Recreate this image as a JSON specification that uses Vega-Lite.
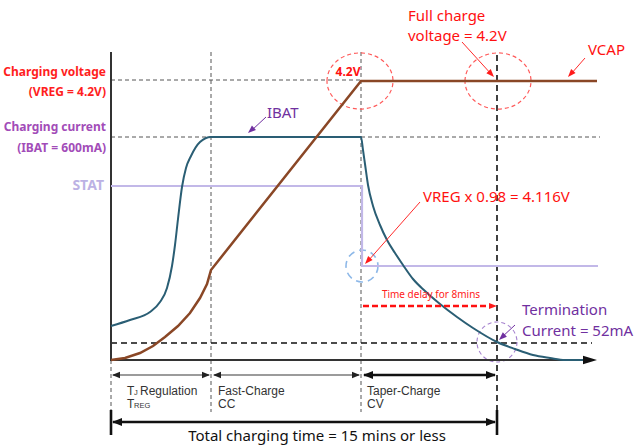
{
  "$schema": "https://vega.github.io/schema/vega-lite/v6.json",
  "width": 639,
  "height": 446,
  "padding": 0,
  "autosize": "none",
  "background": "white",
  "config": {"view": {"stroke": null}},
  "datasets": {
    "lines": [
      {"s": "VCAP", "o": 1, "x": 111, "y": 360},
      {"s": "VCAP", "o": 2, "x": 125, "y": 358},
      {"s": "VCAP", "o": 3, "x": 140, "y": 353},
      {"s": "VCAP", "o": 4, "x": 153, "y": 346},
      {"s": "VCAP", "o": 5, "x": 165, "y": 337},
      {"s": "VCAP", "o": 6, "x": 178, "y": 326},
      {"s": "VCAP", "o": 7, "x": 190, "y": 313},
      {"s": "VCAP", "o": 8, "x": 200, "y": 298},
      {"s": "VCAP", "o": 9, "x": 207, "y": 284},
      {"s": "VCAP", "o": 10, "x": 211, "y": 270},
      {"s": "VCAP", "o": 11, "x": 361, "y": 81},
      {"s": "VCAP", "o": 12, "x": 597, "y": 81},
      {"s": "IBAT", "o": 1, "x": 111, "y": 326},
      {"s": "IBAT", "o": 2, "x": 130, "y": 320},
      {"s": "IBAT", "o": 3, "x": 150, "y": 312},
      {"s": "IBAT", "o": 4, "x": 160, "y": 302},
      {"s": "IBAT", "o": 5, "x": 167, "y": 288},
      {"s": "IBAT", "o": 6, "x": 172, "y": 266},
      {"s": "IBAT", "o": 7, "x": 175, "y": 245},
      {"s": "IBAT", "o": 8, "x": 178, "y": 219},
      {"s": "IBAT", "o": 9, "x": 182, "y": 187},
      {"s": "IBAT", "o": 10, "x": 186, "y": 168},
      {"s": "IBAT", "o": 11, "x": 191, "y": 156},
      {"s": "IBAT", "o": 12, "x": 200, "y": 142},
      {"s": "IBAT", "o": 13, "x": 211, "y": 137},
      {"s": "IBAT", "o": 14, "x": 361, "y": 137},
      {"s": "IBAT", "o": 15, "x": 363, "y": 150},
      {"s": "IBAT", "o": 16, "x": 365, "y": 164},
      {"s": "IBAT", "o": 17, "x": 368, "y": 185},
      {"s": "IBAT", "o": 18, "x": 373, "y": 206},
      {"s": "IBAT", "o": 19, "x": 380, "y": 225},
      {"s": "IBAT", "o": 20, "x": 387, "y": 240},
      {"s": "IBAT", "o": 21, "x": 395, "y": 253},
      {"s": "IBAT", "o": 22, "x": 403, "y": 265},
      {"s": "IBAT", "o": 23, "x": 413, "y": 279},
      {"s": "IBAT", "o": 24, "x": 425, "y": 291},
      {"s": "IBAT", "o": 25, "x": 440, "y": 304},
      {"s": "IBAT", "o": 26, "x": 457, "y": 317},
      {"s": "IBAT", "o": 27, "x": 473, "y": 328},
      {"s": "IBAT", "o": 28, "x": 497, "y": 342},
      {"s": "IBAT", "o": 29, "x": 515, "y": 349},
      {"s": "IBAT", "o": 30, "x": 533, "y": 355},
      {"s": "IBAT", "o": 31, "x": 550, "y": 358},
      {"s": "IBAT", "o": 32, "x": 565, "y": 360},
      {"s": "IBAT", "o": 33, "x": 590, "y": 360},
      {"s": "STAT", "o": 1, "x": 111, "y": 186},
      {"s": "STAT", "o": 2, "x": 362, "y": 186},
      {"s": "STAT", "o": 3, "x": 362, "y": 266},
      {"s": "STAT", "o": 4, "x": 598, "y": 266}
    ],
    "guides": [
      {"k": "g", "x": 111, "y": 80, "x2": 361, "y2": 80},
      {"k": "g", "x": 111, "y": 137, "x2": 211, "y2": 137},
      {"k": "g", "x": 361, "y": 137, "x2": 600, "y2": 137},
      {"k": "g", "x": 211, "y": 52, "x2": 211, "y2": 412},
      {"k": "g", "x": 361, "y": 52, "x2": 361, "y2": 412},
      {"k": "g", "x": 111, "y": 360, "x2": 111, "y2": 412},
      {"k": "b", "x": 111, "y": 343, "x2": 592, "y2": 343},
      {"k": "b", "x": 497, "y": 55, "x2": 497, "y2": 435}
    ],
    "arrows": [
      {"k": "axis", "x": 111, "y": 52, "x2": 111, "y2": 361},
      {"k": "axis", "x": 110, "y": 360, "x2": 588, "y2": 360},
      {"k": "red", "x": 462, "y": 42, "x2": 492, "y2": 75},
      {"k": "red", "x": 585, "y": 58, "x2": 571, "y2": 74},
      {"k": "red", "x": 420, "y": 202, "x2": 368, "y2": 261},
      {"k": "purple", "x": 266, "y": 117, "x2": 251, "y2": 131},
      {"k": "purple", "x": 515, "y": 325, "x2": 501, "y2": 338},
      {"k": "reddash", "x": 363, "y": 306, "x2": 490, "y2": 306},
      {"k": "gray", "x": 113, "y": 375, "x2": 209, "y2": 375},
      {"k": "gray", "x": 214, "y": 375, "x2": 359, "y2": 375},
      {"k": "black", "x": 364, "y": 375, "x2": 495, "y2": 375},
      {"k": "black", "x": 113, "y": 422, "x2": 495, "y2": 422},
      {"k": "black", "x": 111, "y": 410, "x2": 111, "y2": 435},
      {"k": "black", "x": 497, "y": 410, "x2": 497, "y2": 435}
    ],
    "heads": [
      {"k": "red", "x": 494, "y": 77, "ang": 137},
      {"k": "red", "x": 568, "y": 77, "ang": 222},
      {"k": "red", "x": 365, "y": 264, "ang": 222},
      {"k": "red", "x": 497, "y": 306, "ang": 90},
      {"k": "purple", "x": 248, "y": 133, "ang": 228},
      {"k": "purple", "x": 499, "y": 340, "ang": 227},
      {"k": "gray", "x": 112, "y": 375, "ang": 270},
      {"k": "gray", "x": 210, "y": 375, "ang": 90},
      {"k": "gray", "x": 213, "y": 375, "ang": 270},
      {"k": "gray", "x": 360, "y": 375, "ang": 90},
      {"k": "black", "x": 363, "y": 375, "ang": 270},
      {"k": "black", "x": 496, "y": 375, "ang": 90},
      {"k": "black", "x": 112, "y": 422, "ang": 270},
      {"k": "black", "x": 496, "y": 422, "ang": 90},
      {"k": "axis", "x": 597, "y": 360, "ang": 90}
    ],
    "rings": [
      {"k": "r", "x": 360, "y": 81},
      {"k": "r", "x": 498, "y": 81},
      {"k": "bl", "x": 362, "y": 266},
      {"k": "p", "x": 497, "y": 342}
    ],
    "labels": [
      {"k": "rv", "t": "Charging voltage", "x": 106, "y": 72},
      {"k": "rv", "t": "(VREG = 4.2V)", "x": 106, "y": 92},
      {"k": "pv", "t": "Charging current", "x": 106, "y": 127},
      {"k": "pv", "t": "(IBAT = 600mA)", "x": 106, "y": 148},
      {"k": "st", "t": "STAT", "x": 104, "y": 186},
      {"k": "ra", "t": "Full charge", "x": 408, "y": 16},
      {"k": "ra", "t": "voltage = 4.2V", "x": 408, "y": 36},
      {"k": "ra", "t": "VCAP", "x": 588, "y": 50},
      {"k": "ra", "t": "VREG x 0.98 = 4.116V", "x": 423, "y": 197},
      {"k": "r42", "t": "4.2V", "x": 348, "y": 72},
      {"k": "rs", "t": "Time delay for 8mins", "x": 431, "y": 295},
      {"k": "pa", "t": "IBAT", "x": 267, "y": 113},
      {"k": "pa", "t": "Termination", "x": 522, "y": 310},
      {"k": "pa", "t": "Current = 52mA", "x": 522, "y": 331},
      {"k": "bt", "t": "T", "x": 127, "y": 391},
      {"k": "bs", "t": "J", "x": 134, "y": 393},
      {"k": "bt", "t": "Regulation", "x": 140, "y": 391},
      {"k": "bt", "t": "T", "x": 127, "y": 404},
      {"k": "bs", "t": "REG", "x": 134, "y": 406},
      {"k": "bt", "t": "Fast-Charge", "x": 218, "y": 391},
      {"k": "bt", "t": "CC", "x": 218, "y": 404},
      {"k": "bt", "t": "Taper-Charge", "x": 367, "y": 391},
      {"k": "bt", "t": "CV", "x": 367, "y": 404},
      {"k": "tot", "t": "Total charging time = 15 mins or less", "x": 317, "y": 436}
    ]
  },
  "encoding": {
    "x": {"field": "x", "type": "quantitative", "scale": {"domain": [0, 639], "nice": false, "zero": false}, "axis": null},
    "y": {"field": "y", "type": "quantitative", "scale": {"domain": [0, 446], "reverse": true, "nice": false, "zero": false}, "axis": null}
  },
  "layer": [
    {"data": {"name": "guides"}, "transform": [{"filter": "datum.k == 'g'"}], "mark": {"type": "rule", "color": "#555555", "strokeWidth": 1, "strokeDash": [4, 3]}, "encoding": {"x2": {"field": "x2"}, "y2": {"field": "y2"}}},
    {"data": {"name": "guides"}, "transform": [{"filter": "datum.k == 'b'"}], "mark": {"type": "rule", "color": "#111111", "strokeWidth": 1.6, "strokeDash": [6, 4]}, "encoding": {"x2": {"field": "x2"}, "y2": {"field": "y2"}}},
    {"data": {"name": "rings"}, "transform": [{"filter": "datum.k == 'r'"}], "mark": {"type": "point", "shape": "M-1,0A1,0.85,0,1,1,1,0A1,0.85,0,1,1,-1,0Z", "size": 4356, "filled": false, "stroke": "#FF5A5A", "strokeWidth": 1.2, "strokeDash": [4, 3], "opacity": 1}},
    {"data": {"name": "rings"}, "transform": [{"filter": "datum.k == 'bl'"}], "mark": {"type": "point", "shape": "circle", "size": 1024, "filled": false, "stroke": "#8DB8E8", "strokeWidth": 1.6, "strokeDash": [7, 5], "opacity": 1}},
    {"data": {"name": "rings"}, "transform": [{"filter": "datum.k == 'p'"}], "mark": {"type": "point", "shape": "circle", "size": 1600, "filled": false, "stroke": "#A683CF", "strokeWidth": 1.1, "strokeDash": [4, 3], "opacity": 1}},
    {"data": {"name": "arrows"}, "transform": [{"filter": "datum.k == 'axis'"}], "mark": {"type": "rule", "color": "#333333", "strokeWidth": 2}, "encoding": {"x2": {"field": "x2"}, "y2": {"field": "y2"}}},
    {"data": {"name": "lines"}, "transform": [{"filter": "datum.s == 'STAT'"}], "mark": {"type": "line", "color": "#C2B8E8", "strokeWidth": 2.2}, "encoding": {"order": {"field": "o", "type": "quantitative"}}},
    {"data": {"name": "lines"}, "transform": [{"filter": "datum.s == 'IBAT'"}], "mark": {"type": "line", "color": "#2A5E74", "strokeWidth": 2, "interpolate": "monotone"}, "encoding": {"order": {"field": "o", "type": "quantitative"}}},
    {"data": {"name": "lines"}, "transform": [{"filter": "datum.s == 'VCAP'"}], "mark": {"type": "line", "color": "#8A4726", "strokeWidth": 2.5}, "encoding": {"order": {"field": "o", "type": "quantitative"}}},
    {"data": {"name": "arrows"}, "transform": [{"filter": "datum.k == 'red'"}], "mark": {"type": "rule", "color": "#FF2A2A", "strokeWidth": 1}, "encoding": {"x2": {"field": "x2"}, "y2": {"field": "y2"}}},
    {"data": {"name": "arrows"}, "transform": [{"filter": "datum.k == 'purple'"}], "mark": {"type": "rule", "color": "#7030A0", "strokeWidth": 1}, "encoding": {"x2": {"field": "x2"}, "y2": {"field": "y2"}}},
    {"data": {"name": "arrows"}, "transform": [{"filter": "datum.k == 'reddash'"}], "mark": {"type": "rule", "color": "#FF1010", "strokeWidth": 2.5, "strokeDash": [6, 3]}, "encoding": {"x2": {"field": "x2"}, "y2": {"field": "y2"}}},
    {"data": {"name": "arrows"}, "transform": [{"filter": "datum.k == 'gray'"}], "mark": {"type": "rule", "color": "#7A7A7A", "strokeWidth": 1.3}, "encoding": {"x2": {"field": "x2"}, "y2": {"field": "y2"}}},
    {"data": {"name": "arrows"}, "transform": [{"filter": "datum.k == 'black'"}], "mark": {"type": "rule", "color": "#111111", "strokeWidth": 2.6}, "encoding": {"x2": {"field": "x2"}, "y2": {"field": "y2"}}},
    {"data": {"name": "heads"}, "transform": [{"filter": "datum.k == 'red'"}], "mark": {"type": "point", "shape": "M0,0L0.75,2L-0.75,2Z", "size": 64, "filled": true, "color": "#FF1A1A", "opacity": 1}, "encoding": {"angle": {"field": "ang", "type": "quantitative", "scale": null}}},
    {"data": {"name": "heads"}, "transform": [{"filter": "datum.k == 'purple'"}], "mark": {"type": "point", "shape": "M0,0L0.75,2L-0.75,2Z", "size": 64, "filled": true, "color": "#7030A0", "opacity": 1}, "encoding": {"angle": {"field": "ang", "type": "quantitative", "scale": null}}},
    {"data": {"name": "heads"}, "transform": [{"filter": "datum.k == 'gray'"}], "mark": {"type": "point", "shape": "M0,0L0.8,2L-0.8,2Z", "size": 64, "filled": true, "color": "#222222", "opacity": 1}, "encoding": {"angle": {"field": "ang", "type": "quantitative", "scale": null}}},
    {"data": {"name": "heads"}, "transform": [{"filter": "datum.k == 'black'"}], "mark": {"type": "point", "shape": "M0,0L0.8,2L-0.8,2Z", "size": 100, "filled": true, "color": "#111111", "opacity": 1}, "encoding": {"angle": {"field": "ang", "type": "quantitative", "scale": null}}},
    {"data": {"name": "heads"}, "transform": [{"filter": "datum.k == 'axis'"}], "mark": {"type": "point", "shape": "M0,0L0.6,2L-0.6,2Z", "size": 196, "filled": true, "color": "#111111", "opacity": 1}, "encoding": {"angle": {"field": "ang", "type": "quantitative", "scale": null}}},
    {"data": {"name": "labels"}, "transform": [{"filter": "datum.k == 'rv'"}], "mark": {"type": "text", "align": "right", "baseline": "middle", "font": "Noto Sans", "fontSize": 12, "fontWeight": "bold", "color": "#FF1E1E"}, "encoding": {"text": {"field": "t"}}},
    {"data": {"name": "labels"}, "transform": [{"filter": "datum.k == 'pv'"}], "mark": {"type": "text", "align": "right", "baseline": "middle", "font": "Noto Sans", "fontSize": 12, "fontWeight": "bold", "color": "#A24CB8"}, "encoding": {"text": {"field": "t"}}},
    {"data": {"name": "labels"}, "transform": [{"filter": "datum.k == 'st'"}], "mark": {"type": "text", "align": "right", "baseline": "middle", "font": "Noto Sans", "fontSize": 14, "fontWeight": "bold", "color": "#BCB2E4"}, "encoding": {"text": {"field": "t"}}},
    {"data": {"name": "labels"}, "transform": [{"filter": "datum.k == 'ra'"}], "mark": {"type": "text", "align": "left", "baseline": "middle", "font": "Noto Sans", "fontSize": 15, "color": "#FF1010"}, "encoding": {"text": {"field": "t"}}},
    {"data": {"name": "labels"}, "transform": [{"filter": "datum.k == 'r42'"}], "mark": {"type": "text", "align": "center", "baseline": "middle", "font": "Noto Sans", "fontSize": 12, "fontWeight": "bold", "color": "#FF1010"}, "encoding": {"text": {"field": "t"}}},
    {"data": {"name": "labels"}, "transform": [{"filter": "datum.k == 'rs'"}], "mark": {"type": "text", "align": "center", "baseline": "middle", "font": "Noto Sans", "fontSize": 10, "color": "#FF2020"}, "encoding": {"text": {"field": "t"}}},
    {"data": {"name": "labels"}, "transform": [{"filter": "datum.k == 'pa'"}], "mark": {"type": "text", "align": "left", "baseline": "middle", "font": "Noto Sans", "fontSize": 15, "color": "#7030A0"}, "encoding": {"text": {"field": "t"}}},
    {"data": {"name": "labels"}, "transform": [{"filter": "datum.k == 'bt'"}], "mark": {"type": "text", "align": "left", "baseline": "middle", "font": "Liberation Sans", "fontSize": 12, "color": "#333333"}, "encoding": {"text": {"field": "t"}}},
    {"data": {"name": "labels"}, "transform": [{"filter": "datum.k == 'bs'"}], "mark": {"type": "text", "align": "left", "baseline": "middle", "font": "Liberation Sans", "fontSize": 7.5, "color": "#333333"}, "encoding": {"text": {"field": "t"}}},
    {"data": {"name": "labels"}, "transform": [{"filter": "datum.k == 'tot'"}], "mark": {"type": "text", "align": "center", "baseline": "middle", "font": "Noto Sans", "fontSize": 15, "color": "#111111"}, "encoding": {"text": {"field": "t"}}}
  ]
}
